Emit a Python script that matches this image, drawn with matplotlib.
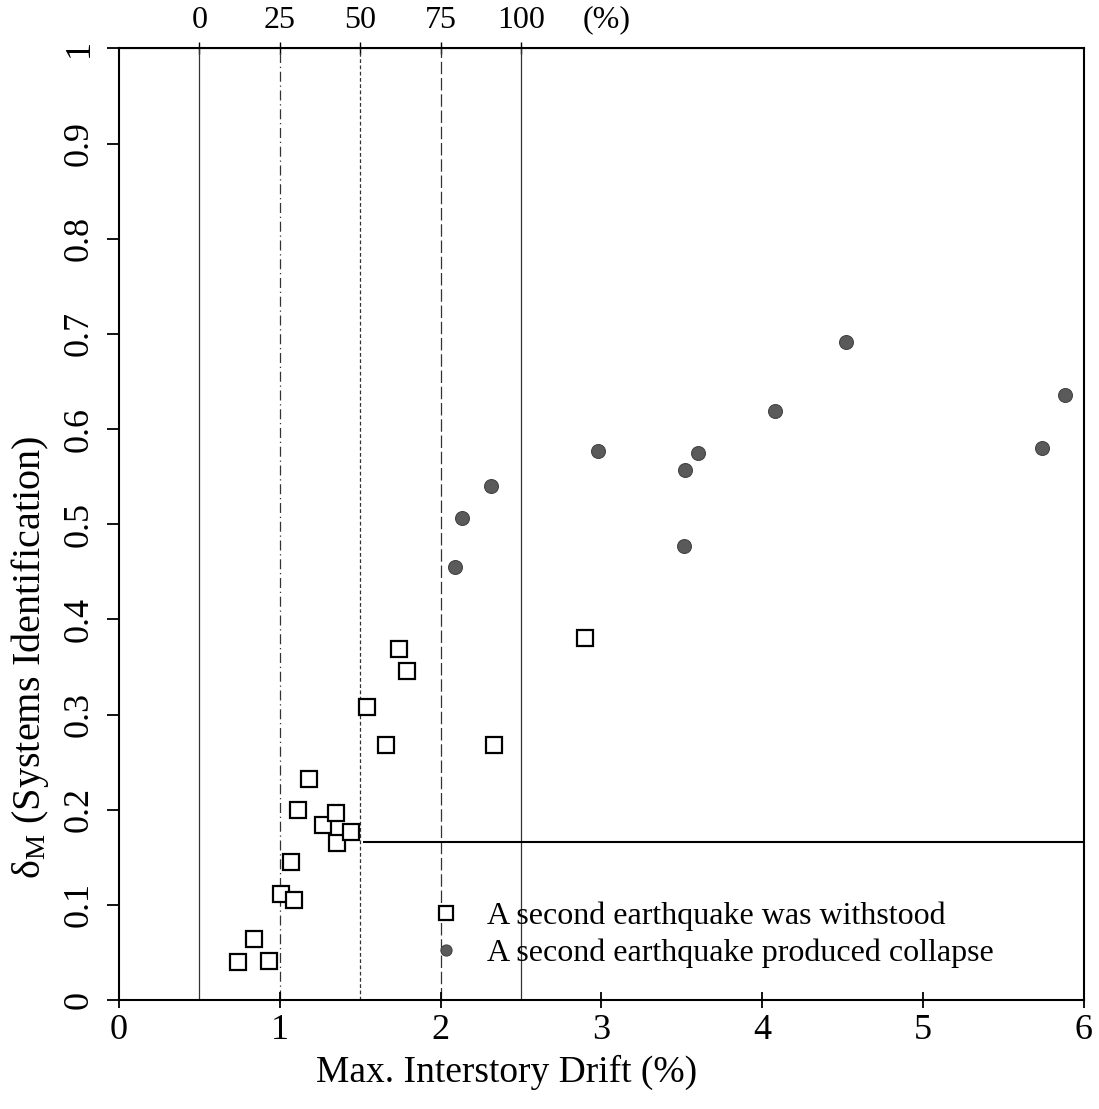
import matplotlib
matplotlib.use("Agg")
import matplotlib.pyplot as plt

plt.rcParams['font.family'] = ['Liberation Serif', 'DejaVu Serif']
plt.rcParams['mathtext.fontset'] = 'custom'
plt.rcParams['mathtext.rm'] = 'Liberation Serif'
plt.rcParams['mathtext.it'] = 'Liberation Serif:italic'

# Data
withstood_x = [0.74, 0.84, 0.93, 1.01, 1.09, 1.07, 1.11, 1.18, 1.27, 1.35, 1.355, 1.44,
               1.545, 1.66, 1.74, 1.79, 2.33, 2.90]
withstood_y = [0.040, 0.064, 0.041, 0.111, 0.105, 0.145, 0.200, 0.232, 0.184, 0.196, 0.165, 0.177,
               0.308, 0.268, 0.369, 0.346, 0.268, 0.380]

collapse_x = [2.09, 2.13, 2.31, 2.98, 3.52, 3.60, 3.51, 4.08, 4.52, 5.74, 5.88]
collapse_y = [0.455, 0.507, 0.540, 0.577, 0.557, 0.575, 0.477, 0.619, 0.692, 0.580, 0.636]

# damage-state boundaries (bottom drift axis) and their top-axis labels
bound_x = [0.5, 1.0, 1.5, 2.0, 2.5]
bound_labels = ['0', '25', '50', '75', '100']
bound_styles = ['-', (0, (8, 3, 1, 3)), (0, (3, 2)), (0, (10, 3)), '-']

hline_y = 0.166
hline_x0 = 1.52

x_ticks = [0, 1, 2, 3, 4, 5, 6]
y_ticks = [0, 0.1, 0.2, 0.3, 0.4, 0.5, 0.6, 0.7, 0.8, 0.9, 1.0]
y_ticklabels = ['0', '0.1', '0.2', '0.3', '0.4', '0.5', '0.6', '0.7', '0.8', '0.9', '1']

fig = plt.figure(figsize=(10.99, 11.09), dpi=100)
ax = fig.add_axes([0.1083, 0.0983, 0.878, 0.858])

for xb, ls in zip(bound_x, bound_styles):
    ax.axvline(xb, color='#333333', lw=0.9, ls=ls, zorder=1)
ax.hlines(hline_y, hline_x0, 6, color='black', lw=1.5, zorder=1)

ax.plot(withstood_x, withstood_y, ls='none', marker='s', ms=12, mfc='white', mec='black',
        mew=1.6, label='A second earthquake was withstood', zorder=3)
ax.plot(collapse_x, collapse_y, ls='none', marker='o', ms=10, mfc='#5a5a5a', mec='#444444',
        mew=0.8, label='A second earthquake produced collapse', zorder=3)

ax.set_xlim(0, 6)
ax.set_ylim(0, 1)
ax.set_xticks(x_ticks)
ax.set_yticks(y_ticks)
ax.set_yticklabels(y_ticklabels, rotation=90, va='center')
ax.tick_params(axis='x', direction='inout', length=12, width=1.3, labelsize=26, pad=4)
ax.tick_params(axis='y', direction='out', length=9, width=1.3, labelsize=26, pad=8)
for sp in ax.spines.values():
    sp.set_linewidth(1.5)

top = ax.secondary_xaxis('top')
top.set_xticks(bound_x)
top.set_xticklabels(bound_labels)
top.tick_params(direction='inout', length=8, width=1.0, labelsize=23, pad=6)
ax.annotate('(%)', xy=(3.03, 1.0), xycoords=('data', 'axes fraction'), xytext=(0, 10),
            textcoords='offset points', ha='center', va='bottom', fontsize=23)

ax.set_xlabel('Max. Interstory Drift (%)', fontsize=27)
ax.xaxis.set_label_coords(0.402, -0.058)
ax.set_ylabel(r'δ$_\mathrm{M}$ (Systems Identification)', fontsize=29)
ax.yaxis.set_label_coords(-0.071, 0.36)

ax.legend(loc='upper left', bbox_to_anchor=(0.292, 0.134), frameon=False, fontsize=23,
          handletextpad=0.8, labelspacing=0.25, markerscale=0.8, handlelength=1.0)

fig.savefig('out.png', dpi=100)
